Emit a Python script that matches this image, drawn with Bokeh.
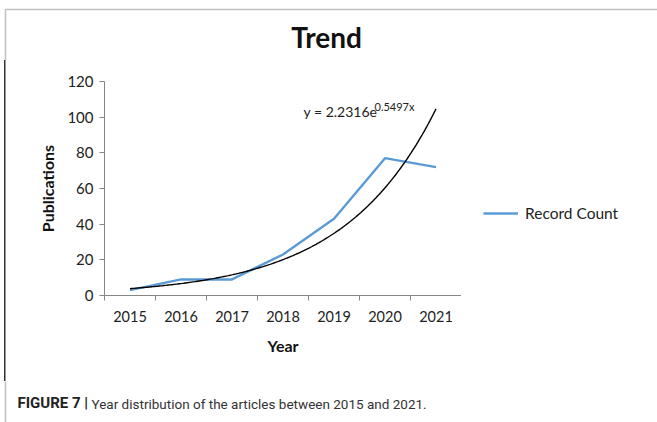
import numpy as np
from bokeh.plotting import figure
from bokeh.layouts import column, row
from bokeh.models import (Range1d, FixedTicker, Label, Legend, LegendItem,
                          BoxAnnotation)
from bokeh.embed import file_html
from bokeh.resources import INLINE

# Publications per year
years = [2015, 2016, 2017, 2018, 2019, 2020, 2021]
record_count = [3, 9, 9, 23, 43, 77, 72]
y_ticks = [0, 20, 40, 60, 80, 100, 120]

# Exponential trendline y = a * e^(b * t), t = 1 for the first year
trend_a = 2.2316
trend_b = 0.5497

title_text = "Trend"
series_name = "Record Count"
caption_bold = "FIGURE 7 |"
caption_text = "Year distribution of the articles between 2015 and 2021."

FONT = "Lato"
CAPTION_FONT = "Roboto"
AXIS_GREY = "#868686"
FRAME_COLOR = "#333333"
SERIES_COLOR = "#5B9BD5"

W, H = 657, 422
TOP_H, MAIN_H = 60, 321
BOTTOM_H = H - TOP_H - MAIN_H
AXIS_LEFT, AXIS_RIGHT = 104, 461       # plot area, page pixels
AXIS_TOP, AXIS_BOTTOM = 81, 295


def blank(width, height, **kw):
    """A figure whose plotting area is the whole canvas (no axes, no grid)."""
    f = figure(width=width, height=height, output_backend="svg",
               toolbar_location=None, title=None,
               x_axis_location=None, y_axis_location=None,
               x_range=Range1d(0, width), y_range=Range1d(0, height), **kw)
    f.grid.visible = False
    f.outline_line_color = None
    return f


def panel_frame(f, width, height, left, top):
    """Border line of the figure panel; edges beyond the canvas stay hidden."""
    f.add_layout(BoxAnnotation(left=left, right=width + 10, top=top,
                               bottom=-10,
                               left_units="screen", right_units="screen",
                               top_units="screen", bottom_units="screen",
                               fill_alpha=0, line_color=FRAME_COLOR,
                               line_width=1.5))


# --- title band -----------------------------------------------------------
top = blank(W, TOP_H, min_border=0)
panel_frame(top, W, TOP_H, 5, TOP_H - 9)
top.add_layout(Label(x=326, y=TOP_H - 53, x_units="screen", y_units="screen",
                     text=title_text, text_font=FONT, text_font_style="bold",
                     text_font_size="28px", text_align="center",
                     text_color="#111111"))

# --- chart ----------------------------------------------------------------
p = figure(width=AXIS_RIGHT, height=MAIN_H, output_backend="svg",
           toolbar_location=None, title=None,
           x_range=Range1d(years[0] - 0.5, years[-1] + 0.5),
           y_range=Range1d(y_ticks[0], y_ticks[-1]),
           min_border_left=AXIS_LEFT, min_border_right=0,
           min_border_top=AXIS_TOP - TOP_H,
           min_border_bottom=TOP_H + MAIN_H - AXIS_BOTTOM)
p.border_fill_color = None
p.outline_line_color = None
p.xgrid.visible = False
p.ygrid.visible = False

p.line(years, record_count, line_color=SERIES_COLOR, line_width=2.4,
       line_join="round")

t = np.linspace(1, len(years), 200)
p.line(years[0] - 1 + t, trend_a * np.exp(trend_b * t),
       line_color="black", line_width=1.4)

# x axis: labels at year centres, tick marks between the years
xa = p.xaxis[0]
xa.ticker = FixedTicker(ticks=years,
                        minor_ticks=[y - 0.5 for y in years] + [years[-1] + 0.5])
xa.major_label_overrides = {y: str(y) for y in years}
xa.major_tick_line_color = None
xa.major_tick_out = 5
xa.minor_tick_out = 5
xa.minor_tick_in = 0
xa.minor_tick_line_color = AXIS_GREY
xa.axis_line_color = AXIS_GREY
xa.major_label_standoff = 10
xa.major_label_text_font = FONT
xa.major_label_text_font_size = "14.5px"
xa.major_label_text_color = "#222222"
xa.axis_label = "Year"
xa.axis_label_text_font = FONT
xa.axis_label_text_font_style = "bold"
xa.axis_label_text_font_size = "16px"
xa.axis_label_text_color = "#111111"
xa.axis_label_standoff = 11

ya = p.yaxis[0]
ya.ticker = FixedTicker(ticks=y_ticks, minor_ticks=[])
ya.major_tick_out = 5
ya.major_tick_in = 0
ya.major_tick_line_color = AXIS_GREY
ya.axis_line_color = AXIS_GREY
ya.major_label_standoff = 6
ya.major_label_text_font = FONT
ya.major_label_text_font_size = "15px"
ya.major_label_text_color = "#222222"
ya.axis_label = "Publications"
ya.axis_label_text_font = FONT
ya.axis_label_text_font_style = "bold"
ya.axis_label_text_font_size = "16px"
ya.axis_label_text_color = "#111111"
ya.axis_label_standoff = 7

eq_main = f"y = {trend_a:.4f}e"
eq_sup = f"{trend_b:.4f}x"
p.add_layout(Label(x=199, y=175.5, x_units="screen", y_units="screen",
                   text=eq_main, text_font=FONT, text_font_size="14px",
                   text_color="#222222"))
p.add_layout(Label(x=270, y=183, x_units="screen", y_units="screen",
                   text=eq_sup, text_font=FONT, text_font_size="11px",
                   text_color="#222222"))

# --- legend beside the chart (its plotting area lines up with the chart's) --
side = blank(W - AXIS_RIGHT, MAIN_H, min_border_left=0, min_border_right=0,
             min_border_top=AXIS_TOP - TOP_H,
             min_border_bottom=TOP_H + MAIN_H - AXIS_BOTTOM)
key = side.line([np.nan], [np.nan], line_color=SERIES_COLOR, line_width=2.4)
side.add_layout(Legend(items=[LegendItem(label=series_name, renderers=[key])],
                       location=(22, 72), padding=0, margin=0, spacing=0,
                       glyph_width=35, glyph_height=20, label_height=20,
                       label_standoff=7, border_line_color=None,
                       background_fill_alpha=0, label_text_font=FONT,
                       label_text_font_size="15.5px",
                       label_text_color="#222222"))

# --- caption band ---------------------------------------------------------
bottom = blank(W, BOTTOM_H, min_border=0)
panel_frame(bottom, W, BOTTOM_H, 5, BOTTOM_H + 10)
bottom.add_layout(Label(x=17, y=10.5, x_units="screen", y_units="screen",
                        text=caption_bold, text_font=CAPTION_FONT,
                        text_font_style="bold", text_font_size="15px",
                        text_color="#222222"))
bottom.add_layout(Label(x=91, y=10.5, x_units="screen", y_units="screen",
                        text=caption_text, text_font=CAPTION_FONT,
                        text_font_size="13.5px", text_color="#333333"))

# left edge of the panel alongside the chart band
middle = row(p, side, spacing=0, styles={
    "background": f"linear-gradient({FRAME_COLOR}, {FRAME_COLOR}) "
                  "4.25px 0 / 1.5px 100% no-repeat"})

layout = column(top, middle, bottom, spacing=0)

open("out.html", "w").write(file_html(layout, INLINE))
